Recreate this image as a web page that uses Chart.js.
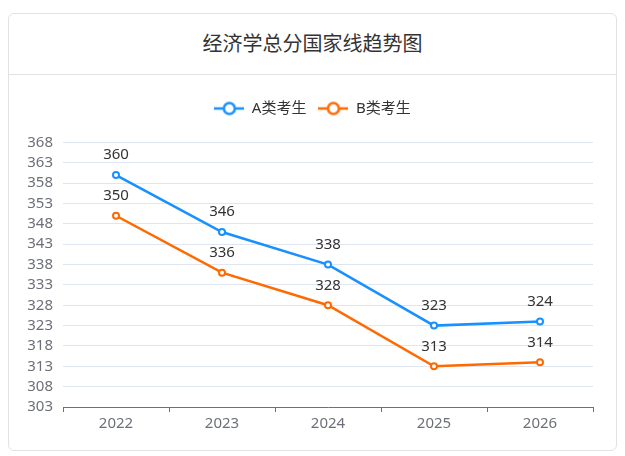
<!DOCTYPE html>
<html>
<head>
<meta charset="utf-8">
<title>经济学总分国家线趋势图</title>
<script src="https://cdn.jsdelivr.net/npm/chart.js@4.4.1/dist/chart.umd.min.js"></script>
<style>
  body { margin: 0; background: #fff; font-family: "Noto Sans", "Noto Sans CJK SC", sans-serif; }
  .card {
    position: absolute; left: 8px; top: 13px; width: 609px; height: 438px;
    box-sizing: border-box; border: 1px solid #e2e2e2; border-radius: 6px; background: #fff;
  }
  .card-header {
    height: 60px; line-height: 60px; border-bottom: 1px solid #e2e2e2;
    text-align: center; font-size: 20px; color: #333;
  }
  .chart-box { position: relative; width: 607px; height: 375px; }
  canvas { display: block; }
</style>
</head>
<body>
<div class="card">
  <div class="card-header">经济学总分国家线趋势图</div>
  <div class="chart-box"><canvas id="trend-chart" width="607" height="375"></canvas></div>
</div>
<script>
// Data
const years = ['2022', '2023', '2024', '2025', '2026'];
const scoresA = [360, 346, 338, 323, 324];
const scoresB = [350, 336, 328, 313, 314];
const yTicks = [303, 308, 313, 318, 323, 328, 333, 338, 343, 348, 353, 358, 363, 368];

const FONT = '"Noto Sans", "Noto Sans CJK SC", sans-serif';
const BLUE = '#1890ff';
const ORANGE = '#ff6a00';

// Legend marker: short line with an open circle in the middle
function makeMarker(color) {
  const c = document.createElement('canvas');
  c.width = 30;
  c.height = 16;
  const g = c.getContext('2d');
  g.strokeStyle = color;
  g.lineWidth = 2.5;
  g.beginPath();
  g.moveTo(0, 8);
  g.lineTo(30, 8);
  g.stroke();
  g.beginPath();
  g.arc(15, 8, 5.5, 0, Math.PI * 2);
  g.fillStyle = '#fff';
  g.fill();
  g.stroke();
  return c;
}
const markers = [makeMarker(BLUE), makeMarker(ORANGE)];

// Value labels above each point
const valueLabels = {
  id: 'valueLabels',
  afterDatasetsDraw(chart) {
    const ctx = chart.ctx;
    ctx.save();
    ctx.font = '15px ' + FONT;
    ctx.fillStyle = '#333';
    ctx.textAlign = 'center';
    ctx.textBaseline = 'middle';
    chart.data.datasets.forEach((ds, i) => {
      chart.getDatasetMeta(i).data.forEach((pt, j) => {
        ctx.fillText(ds.data[j], pt.x, pt.y - 20);
      });
    });
    ctx.restore();
  }
};

// Extra room below the legend
const legendGap = {
  id: 'legendGap',
  beforeInit(chart) {
    const fit = chart.legend.fit;
    chart.legend.fit = function () {
      fit.bind(chart.legend)();
      this.height += 16.5;
    };
  }
};

const ctx = document.getElementById('trend-chart').getContext('2d');
new Chart(ctx, {
  type: 'line',
  data: {
    labels: years,
    datasets: [{
      label: 'A类考生',
      data: scoresA,
      borderColor: BLUE,
      backgroundColor: '#fff',
      borderWidth: 2.5,
      pointRadius: 3,
      pointBorderWidth: 2,
      pointBackgroundColor: '#fff',
      pointBorderColor: BLUE,
      tension: 0
    }, {
      label: 'B类考生',
      data: scoresB,
      borderColor: ORANGE,
      backgroundColor: '#fff',
      borderWidth: 2.5,
      pointRadius: 3,
      pointBorderWidth: 2,
      pointBackgroundColor: '#fff',
      pointBorderColor: ORANGE,
      tension: 0
    }]
  },
  options: {
    responsive: false,
    animation: false,
    layout: {
      padding: { top: 14, left: 0, right: 0, bottom: 14 }
    },
    plugins: {
      legend: {
        position: 'top',
        labels: {
          usePointStyle: true,
          pointStyleWidth: 30,
          padding: 12,
          color: '#333',
          font: { size: 15, family: FONT },
          generateLabels(chart) {
            const items = Chart.defaults.plugins.legend.labels.generateLabels(chart);
            items.forEach((item, i) => { item.pointStyle = markers[i]; });
            return items;
          }
        }
      },
      tooltip: { enabled: false }
    },
    scales: {
      x: {
        offset: true,
        grid: {
          offset: true,
          drawOnChartArea: false,
          drawTicks: true,
          tickLength: 5,
          color: '#6e7079'
        },
        border: { display: true, color: '#6e7079', width: 1 },
        ticks: {
          color: '#6e7079',
          padding: 3,
          maxRotation: 0,
          font: { size: 15, family: FONT }
        }
      },
      y: {
        min: 303,
        max: 368,
        afterBuildTicks(scale) {
          scale.ticks = yTicks.map(v => ({ value: v }));
        },
        afterFit(scale) {
          scale.width = 54;
        },
        grid: {
          color: '#e0e6f1',
          drawTicks: false
        },
        border: { display: false },
        ticks: {
          autoSkip: false,
          color: '#6e7079',
          padding: 10,
          font: { size: 15, family: FONT }
        }
      },
      // empty spacer on the right so the legend stays centred
      spacer: {
        type: 'linear',
        position: 'right',
        afterFit(scale) {
          scale.width = 23;
        },
        grid: { display: false },
        border: { display: false },
        ticks: { display: false }
      }
    }
  },
  plugins: [valueLabels, legendGap]
});
</script>
</body>
</html>
